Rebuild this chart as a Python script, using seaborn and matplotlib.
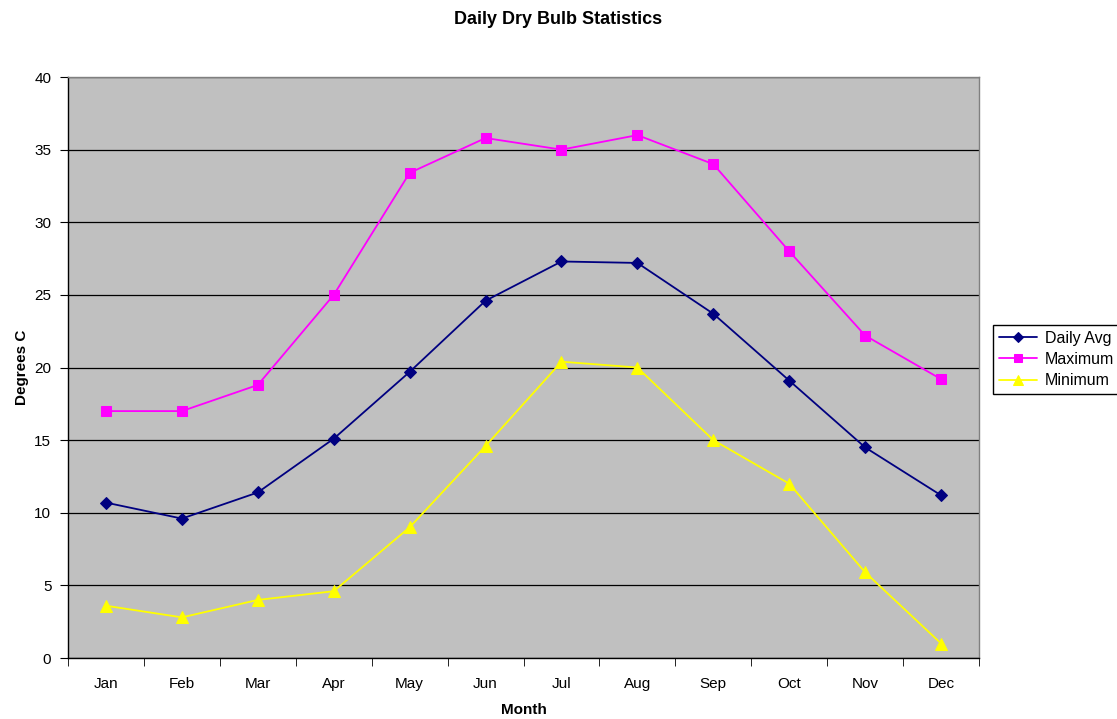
import matplotlib
matplotlib.use("Agg")
import matplotlib.pyplot as plt
from matplotlib.ticker import MultipleLocator, FixedLocator
import seaborn as sns
import pandas as pd

months = ["Jan", "Feb", "Mar", "Apr", "May", "Jun", "Jul", "Aug", "Sep", "Oct", "Nov", "Dec"]
daily_avg = [10.7, 9.6, 11.4, 15.1, 19.7, 24.6, 27.3, 27.2, 23.7, 19.1, 14.5, 11.2]
maximum = [17.0, 17.0, 18.8, 25.0, 33.4, 35.8, 35.0, 36.0, 34.0, 28.0, 22.2, 19.2]
minimum = [3.6, 2.8, 4.0, 4.6, 9.0, 14.6, 20.4, 20.0, 15.0, 12.0, 5.9, 1.0]

sns.set_style("white")
plt.rcParams["font.family"] = ["Liberation Sans", "DejaVu Sans"]
plt.rcParams["text.color"] = "black"
plt.rcParams["axes.labelcolor"] = "black"
plt.rcParams["xtick.color"] = "black"
plt.rcParams["ytick.color"] = "black"

fig = plt.figure(figsize=(11.17, 7.19), dpi=100)
ax = fig.add_axes([0.0609, 0.0848, 0.8156, 0.8081])
ax.set_facecolor("#C0C0C0")

x = list(range(len(months)))
series = [
    ("Daily Avg", daily_avg, "#000080", "D", 6),
    ("Maximum", maximum, "#FF00FF", "s", 7),
    ("Minimum", minimum, "#FFFF00", "^", 8),
]
for name, vals, col, mk, ms in series:
    df = pd.DataFrame({"x": x, "y": vals})
    sns.lineplot(data=df, x="x", y="y", ax=ax, color=col, marker=mk, markersize=ms,
                 markeredgecolor=col, linewidth=1.3, label=name)

ax.set_xlim(-0.5, 11.5)
ax.set_ylim(0, 40)
ax.yaxis.set_major_locator(MultipleLocator(5))
ax.grid(axis="y", color="black", linewidth=0.9)
ax.set_axisbelow(True)

ax.set_xticks(x)
ax.set_xticklabels(months)
ax.xaxis.set_minor_locator(FixedLocator([i - 0.5 for i in range(13)]))
ax.tick_params(axis="x", which="major", length=0, labelsize=11, pad=14)
ax.tick_params(axis="x", which="minor", length=6, color="black", direction="out", bottom=True)
ax.tick_params(axis="y", which="major", length=6, color="black", direction="out", left=True, labelsize=11, pad=6)

for side in ["top", "right"]:
    ax.spines[side].set_color("#808080")
for side in ["left", "bottom"]:
    ax.spines[side].set_color("black")
for s in ax.spines.values():
    s.set_linewidth(1.0)

ax.set_xlabel("Month", fontsize=11, fontweight="bold", labelpad=8)
ax.set_ylabel("Degrees C", fontsize=11, fontweight="bold", labelpad=4)
fig.suptitle("Daily Dry Bulb Statistics", fontsize=13, fontweight="bold", y=0.985)

leg = ax.legend(loc="center left", bbox_to_anchor=(0.889, 0.5), bbox_transform=fig.transFigure,
                fontsize=11.5, frameon=True, fancybox=False, edgecolor="black", framealpha=1,
                handlelength=2.4, handletextpad=0.5, borderpad=0.35, labelspacing=0.4,
                borderaxespad=0, markerscale=0.85)
leg.get_frame().set_linewidth(1.0)

fig.savefig("out.png", dpi=100)
